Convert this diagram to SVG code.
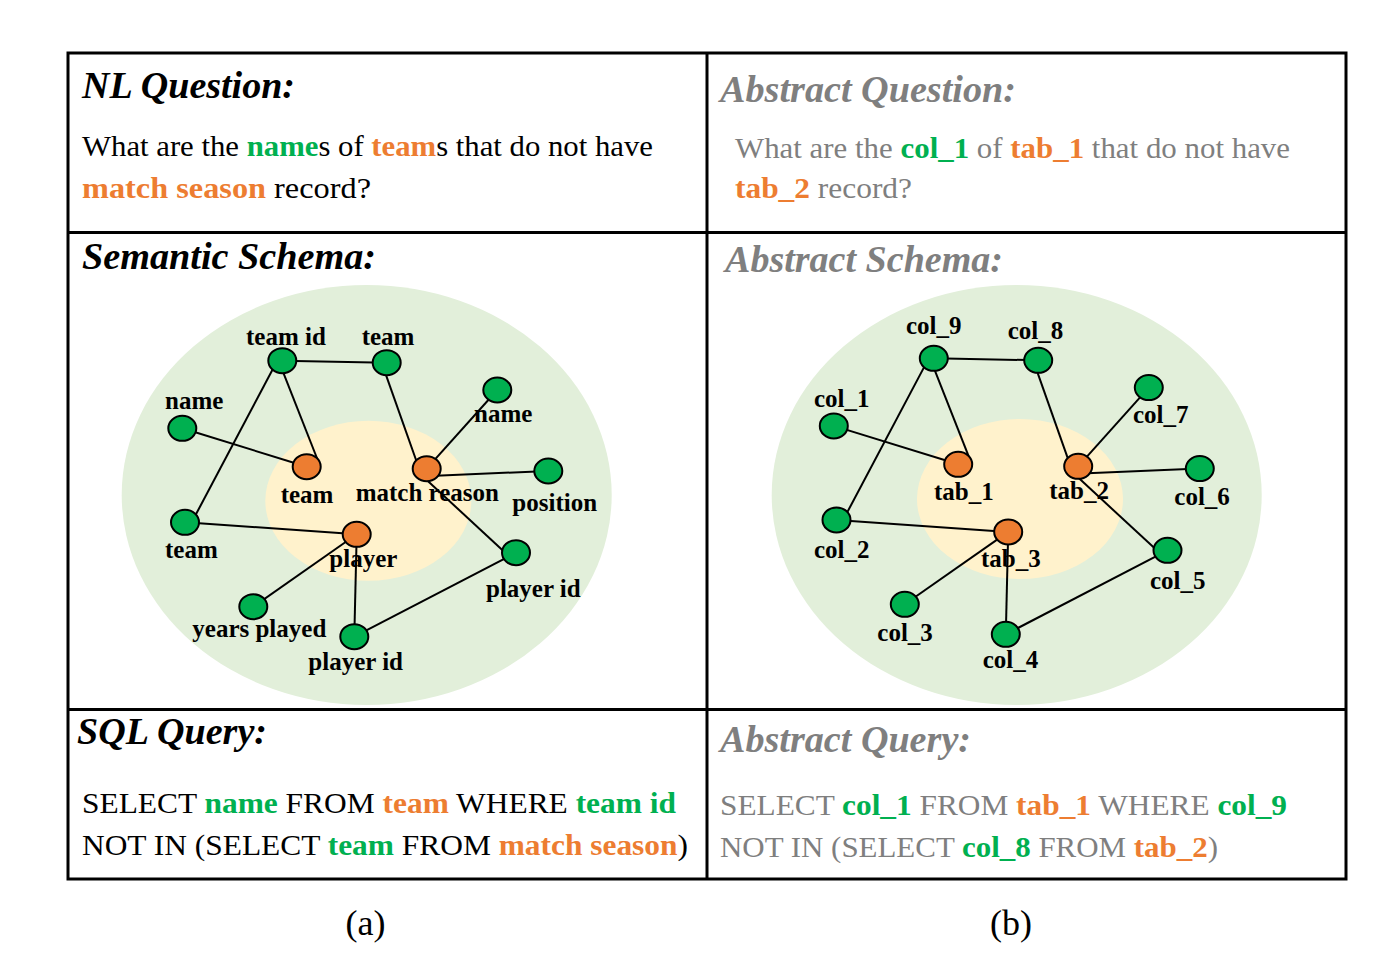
<svg xmlns="http://www.w3.org/2000/svg" width="1395" height="965" viewBox="0 0 1395 965">
<style>
.frame{fill:none;stroke:#000;stroke-width:3}
.h{font-family:"Liberation Serif","Times New Roman",serif;font-weight:bold;font-style:italic;font-size:38px}
.t{font-family:"Liberation Serif","Times New Roman",serif;font-size:30px}
.b{font-weight:bold}
.k{fill:#000}
.g{fill:#00B050}
.o{fill:#ED7D31}
.gr{fill:#7F7F7F}
.lbl{font-family:"Liberation Serif","Times New Roman",serif;font-weight:bold;font-size:25px;fill:#000}
.edge{stroke:#000;stroke-width:2;fill:none}
.col{fill:#00B050;stroke:#000;stroke-width:2}
.tab{fill:#ED7D31;stroke:#000;stroke-width:2}
.outer{fill:#E2EFDA}
.inner{fill:#FFF2CC}
.cap{font-family:"Liberation Serif","Times New Roman",serif;font-size:36px;fill:#000}
</style>
<rect width="1395" height="965" fill="#fff"/>

<!-- frame -->
<g id="frame">
<rect class="frame" x="68" y="53" width="1278" height="826"/>
<line class="frame" x1="707" y1="53" x2="707" y2="879"/>
<line class="frame" x1="68" y1="232.5" x2="1346" y2="232.5"/>
<line class="frame" x1="68" y1="709.5" x2="1346" y2="709.5"/>
</g>

<!-- NL question -->
<g id="nl-question">
<text class="h k" x="82" y="98" textLength="213" lengthAdjust="spacingAndGlyphs">NL Question:</text>
<text class="t k" x="82" y="156" textLength="571" lengthAdjust="spacingAndGlyphs">What are the <tspan class="b g">name</tspan>s of <tspan class="b o">team</tspan>s that do not have</text>
<text class="t k" x="82" y="198" textLength="289" lengthAdjust="spacingAndGlyphs"><tspan class="b o">match season</tspan> record?</text>
</g>

<!-- Abstract question -->
<g id="abstract-question">
<text class="h gr" x="720" y="102" textLength="296" lengthAdjust="spacingAndGlyphs">Abstract Question:</text>
<text class="t gr" x="735" y="158" textLength="555" lengthAdjust="spacingAndGlyphs">What are the <tspan class="b g">col_1</tspan> of <tspan class="b o">tab_1</tspan> that do not have</text>
<text class="t gr" x="735" y="198" textLength="177" lengthAdjust="spacingAndGlyphs"><tspan class="b o">tab_2</tspan> record?</text>
</g>

<!-- Semantic schema -->
<g id="semantic-schema">
<text class="h k" x="82" y="269" textLength="294" lengthAdjust="spacingAndGlyphs">Semantic Schema:</text>
<ellipse class="outer" cx="366.7" cy="495" rx="245" ry="210"/>
<ellipse class="inner" cx="368.3" cy="500.8" rx="103" ry="80"/>
<g id="edges-left">
<line class="edge" x1="282.3" y1="360.7" x2="386.7" y2="362.7"/>
<line class="edge" x1="283.3" y1="372.7" x2="317.7" y2="460"/>
<line class="edge" x1="274.2" y1="366.5" x2="194.1" y2="517.8"/>
<line class="edge" x1="182.3" y1="428.3" x2="306.7" y2="466.7"/>
<line class="edge" x1="384" y1="369.3" x2="418" y2="465.5"/>
<line class="edge" x1="426.7" y1="468.7" x2="497.3" y2="390"/>
<line class="edge" x1="430" y1="476" x2="548.3" y2="471"/>
<line class="edge" x1="426.7" y1="480" x2="511" y2="558"/>
<line class="edge" x1="185" y1="522.3" x2="356.7" y2="534.3"/>
<line class="edge" x1="356.7" y1="534.3" x2="253.3" y2="606.7"/>
<line class="edge" x1="356.7" y1="534.3" x2="354.3" y2="636.7"/>
<line class="edge" x1="354.3" y1="636.7" x2="516" y2="552.7"/>
</g>
<g id="n-team-id"><ellipse class="col" cx="282.3" cy="360.7" rx="14" ry="12.5"/><text class="lbl" x="246" y="345">team id</text></g>
<g id="n-team-top"><ellipse class="col" cx="386.7" cy="362.7" rx="14" ry="12.5"/><text class="lbl" x="361.7" y="345">team</text></g>
<g id="n-name-left"><ellipse class="col" cx="182.3" cy="428.3" rx="14" ry="12.5"/><text class="lbl" x="165" y="409">name</text></g>
<g id="n-name-right"><ellipse class="col" cx="497.3" cy="390" rx="14" ry="12.5"/></g>
<g id="n-position"><ellipse class="col" cx="548.3" cy="471" rx="14" ry="12.5"/><text class="lbl" x="512.3" y="511">position</text></g>
<g id="n-team-low"><ellipse class="col" cx="185" cy="522.3" rx="14" ry="12.5"/><text class="lbl" x="165" y="557.7">team</text></g>
<g id="n-player-id-right"><ellipse class="col" cx="516" cy="552.7" rx="14" ry="12.5"/><text class="lbl" x="486" y="596.7">player id</text></g>
<g id="n-years-played"><ellipse class="col" cx="253.3" cy="606.7" rx="14" ry="12.5"/><text class="lbl" x="192.3" y="636.7">years played</text></g>
<g id="n-player-id-bottom"><ellipse class="col" cx="354.3" cy="636.7" rx="14" ry="12.5"/><text class="lbl" x="308.3" y="670">player id</text></g>
<g id="t-team"><ellipse class="tab" cx="306.7" cy="466.7" rx="14" ry="12.5"/><text class="lbl" x="280.7" y="502.7">team</text></g>
<g id="t-match-reason"><ellipse class="tab" cx="426.7" cy="468.7" rx="14" ry="12.5"/><text class="lbl" x="355.7" y="501.3">match reason</text></g>
<g id="t-player"><ellipse class="tab" cx="356.7" cy="534.3" rx="14" ry="12.5"/><text class="lbl" x="329.3" y="567.3">player</text></g>
<text class="lbl" x="474" y="421.7">name</text>
</g>

<!-- Abstract schema -->
<g id="abstract-schema">
<text class="h gr" x="725" y="272" textLength="278" lengthAdjust="spacingAndGlyphs">Abstract Schema:</text>
<ellipse class="outer" cx="1016.7" cy="495" rx="245" ry="210"/>
<ellipse class="inner" cx="1020" cy="499" rx="103" ry="80"/>
<g id="edges-right">
<line class="edge" x1="933.8" y1="358.3" x2="1038.2" y2="360.3"/>
<line class="edge" x1="934.8" y1="370.3" x2="969.2" y2="457.6"/>
<line class="edge" x1="925.7" y1="364.1" x2="845.6" y2="515.4"/>
<line class="edge" x1="833.8" y1="425.9" x2="958.2" y2="464.3"/>
<line class="edge" x1="1035.5" y1="366.9" x2="1069.5" y2="463.1"/>
<line class="edge" x1="1078.2" y1="466.3" x2="1148.8" y2="387.6"/>
<line class="edge" x1="1081.5" y1="473.6" x2="1199.8" y2="468.6"/>
<line class="edge" x1="1078.2" y1="477.6" x2="1162.5" y2="555.6"/>
<line class="edge" x1="836.5" y1="519.9" x2="1008.2" y2="531.9"/>
<line class="edge" x1="1008.2" y1="531.9" x2="904.8" y2="604.3"/>
<line class="edge" x1="1008.2" y1="531.9" x2="1005.8" y2="634.3"/>
<line class="edge" x1="1005.8" y1="634.3" x2="1167.5" y2="550.3"/>
</g>
<g id="n-col9"><ellipse class="col" cx="933.8" cy="358.3" rx="14" ry="12.5"/><text class="lbl" x="906" y="334">col_9</text></g>
<g id="n-col8"><ellipse class="col" cx="1038.2" cy="360.3" rx="14" ry="12.5"/><text class="lbl" x="1007.7" y="339.3">col_8</text></g>
<g id="n-col1"><ellipse class="col" cx="833.8" cy="425.9" rx="14" ry="12.5"/><text class="lbl" x="814" y="406.7">col_1</text></g>
<g id="n-col7"><ellipse class="col" cx="1148.8" cy="387.6" rx="14" ry="12.5"/><text class="lbl" x="1133" y="422.7">col_7</text></g>
<g id="n-col6"><ellipse class="col" cx="1199.8" cy="468.6" rx="14" ry="12.5"/><text class="lbl" x="1174.3" y="505">col_6</text></g>
<g id="n-col2"><ellipse class="col" cx="836.5" cy="519.9" rx="14" ry="12.5"/><text class="lbl" x="814" y="557.7">col_2</text></g>
<g id="n-col5"><ellipse class="col" cx="1167.5" cy="550.3" rx="14" ry="12.5"/><text class="lbl" x="1150" y="589">col_5</text></g>
<g id="n-col3"><ellipse class="col" cx="904.8" cy="604.3" rx="14" ry="12.5"/><text class="lbl" x="877.3" y="640.7">col_3</text></g>
<g id="n-col4"><ellipse class="col" cx="1005.8" cy="634.3" rx="14" ry="12.5"/><text class="lbl" x="982.7" y="668.3">col_4</text></g>
<g id="t-tab1"><ellipse class="tab" cx="958.2" cy="464.3" rx="14" ry="12.5"/><text class="lbl" x="934" y="500">tab_1</text></g>
<g id="t-tab2"><ellipse class="tab" cx="1078.2" cy="466.3" rx="14" ry="12.5"/><text class="lbl" x="1049.3" y="499">tab_2</text></g>
<g id="t-tab3"><ellipse class="tab" cx="1008.2" cy="531.9" rx="14" ry="12.5"/><text class="lbl" x="981" y="566.7">tab_3</text></g>
</g>

<!-- SQL query -->
<g id="sql-query">
<text class="h k" x="77" y="744" textLength="190" lengthAdjust="spacingAndGlyphs">SQL Query:</text>
<text class="t k" x="82" y="813" textLength="594" lengthAdjust="spacingAndGlyphs">SELECT <tspan class="b g">name</tspan> FROM <tspan class="b o">team</tspan> WHERE <tspan class="b g">team id</tspan></text>
<text class="t k" x="82" y="855" textLength="606" lengthAdjust="spacingAndGlyphs">NOT IN (SELECT <tspan class="b g">team</tspan> FROM <tspan class="b o">match season</tspan>)</text>
</g>

<!-- Abstract query -->
<g id="abstract-query">
<text class="h gr" x="720" y="752" textLength="251" lengthAdjust="spacingAndGlyphs">Abstract Query:</text>
<text class="t gr" x="720" y="815" textLength="567" lengthAdjust="spacingAndGlyphs">SELECT <tspan class="b g">col_1</tspan> FROM <tspan class="b o">tab_1</tspan> WHERE <tspan class="b g">col_9</tspan></text>
<text class="t gr" x="720" y="857" textLength="498" lengthAdjust="spacingAndGlyphs">NOT IN (SELECT <tspan class="b g">col_8</tspan> FROM <tspan class="b o">tab_2</tspan>)</text>
</g>

<!-- captions -->
<text class="cap" x="365.5" y="935" text-anchor="middle">(a)</text>
<text class="cap" x="1011" y="935" text-anchor="middle">(b)</text>
</svg>
